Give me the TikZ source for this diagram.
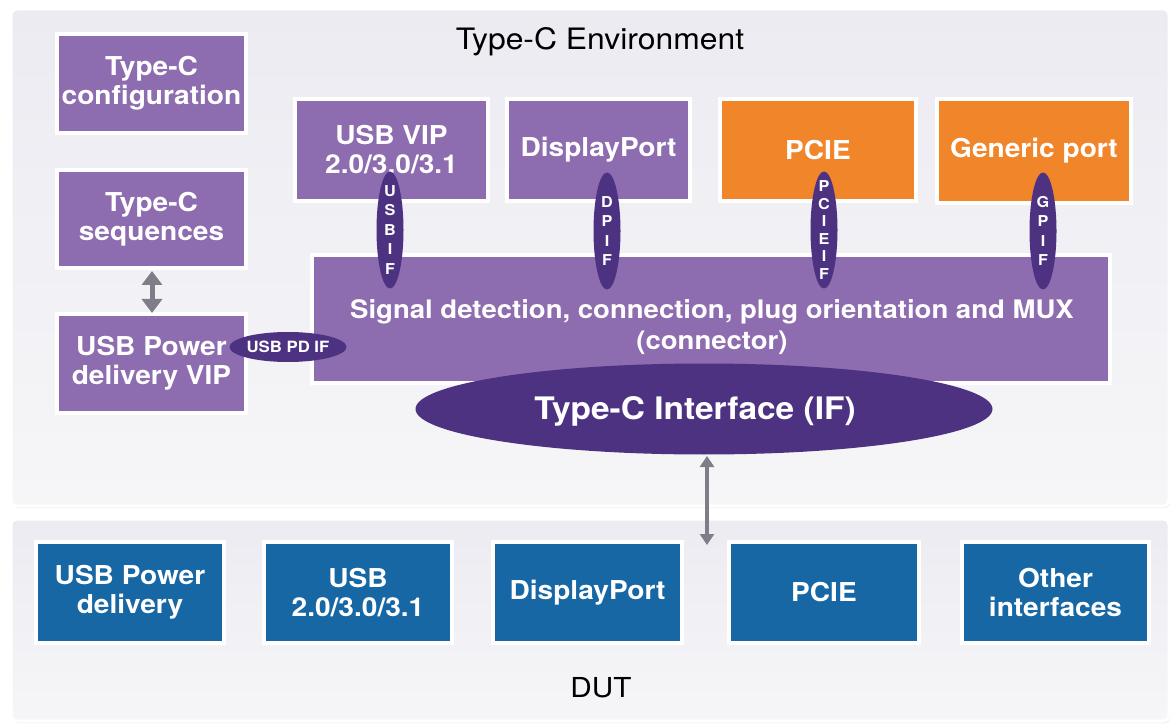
\documentclass[tikz,border=0pt]{standalone}
\usepackage{fontspec}
\setmainfont{TeX Gyre Heros}[FakeStretch=1.08]
\usetikzlibrary{shapes.geometric,arrows.meta,shadows}
\definecolor{envtop}{HTML}{ECEBF2}
\definecolor{envbot}{HTML}{F6F6F8}
\definecolor{vio}{HTML}{8E6CB0}
\definecolor{dvio}{HTML}{4D3282}
\definecolor{org}{HTML}{F0852A}
\definecolor{blu}{HTML}{1767A5}
\definecolor{arr}{HTML}{7E7D88}
\begin{document}
\begin{tikzpicture}[x=1pt,y=-1pt,
  panel/.style={rectangle, rounded corners=6pt, draw=white, line width=3pt, top color=envtop, bottom color=envbot, inner sep=0pt,
     drop shadow={opacity=0.18, shadow xshift=1pt, shadow yshift=-2pt}},
  box/.style={rectangle, draw=white, line width=4pt, fill=vio, text=white, align=center, inner sep=0pt,
     font=\bfseries\fontsize{26}{29}\selectfont,
     drop shadow={opacity=0.25, shadow xshift=1.5pt, shadow yshift=-2pt}},
  obox/.style={box, fill=org},
  bbox/.style={box, fill=blu},
  vell/.style={ellipse, fill=dvio, inner sep=0pt, minimum width=27pt, minimum height=117pt},
  vtxt/.style={text=white, align=center, inner sep=0pt, font=\bfseries\fontsize{15}{19.5}\selectfont},
  vtxtb/.style={vtxt, font=\bfseries\fontsize{15}{17.6}\selectfont},
  plain/.style={inner sep=0pt, text=black},
  twoway/.style={draw=arr, {Triangle[length=11pt,width=14pt]}-{Triangle[length=11pt,width=14pt]}},
]
\fill[white] (0,0) rectangle (1176,727);
\useasboundingbox (0,0) rectangle (1176,727);

% panels
\node[panel, minimum width=1158pt, minimum height=497pt] (env) at (590,257.5) {};
\node[panel, minimum width=1158pt, minimum height=202pt] (dutp) at (590,620) {};
\node[plain, font=\fontsize{29.5}{33}\selectfont] (envt) at (600,42) {Type-C Environment};
\node[plain, font=\fontsize{27.5}{30}\selectfont] (dutt) at (601,688) {DUT};

% left column
\node[box, minimum width=189pt, minimum height=99pt] (cfg) at (151.5,83.5) {Type-C\\configuration};
\node[box, minimum width=189pt, minimum height=98pt] (seq) at (151.5,219) {Type-C\\sequences};
\node[box, minimum width=189pt, minimum height=99pt] (pd) at (151.5,363.5) {USB Power\\delivery VIP};

% top row
\node[box, minimum width=193pt, minimum height=102pt] (usb) at (391.5,150) {USB VIP\\2.0/3.0/3.1};
\node[box, minimum width=183pt, minimum height=102pt] (dp) at (598.5,150) {DisplayPort};
\node[obox, minimum width=196pt, minimum height=102pt] (pcie) at (818,150) {PCIE};
\node[obox, minimum width=194pt, minimum height=104pt] (gen) at (1034,151) {Generic port};

% signal box
\node[box, minimum width=798pt, minimum height=128pt] (sig) at (711,319) {};
\node[plain, text=white, align=center, font=\bfseries\fontsize{25.5}{31}\selectfont] (sigt) at (712,327)
  {Signal detection, connection, plug orientation and MUX\\(connector)};

% vertical interface ellipses
\node[vell] (usbif) at (390,230) {};
\node[vtxt] (usbift) at (usbif) {U\\S\\B\\I\\F};
\node[vell] (dpif) at (607,231) {};
\node[vtxt] (dpift) at (dpif) {D\\P\\I\\F};
\node[vell] (pcieif) at (824,230) {};
\node[vtxtb] (pcieift) at (pcieif) {P\\C\\I\\E\\I\\F};
\node[vell] (gpif) at (1043,231) {};
\node[vtxt] (gpift) at (gpif) {G\\P\\I\\F};

% USB PD IF
\node[ellipse, fill=dvio, inner sep=0pt, minimum width=117pt, minimum height=30pt] (pdif) at (288,347) {};
\node[vtxt, font=\bfseries\fontsize{15.5}{17}\selectfont] (pdift) at (pdif) {USB PD IF};

% Type-C IF
\node[ellipse, fill=dvio, inner sep=0pt, minimum width=577pt, minimum height=91pt] (tcif) at (704,409) {};
\node[plain, text=white, font=\bfseries\fontsize{31}{34}\selectfont] (tcift) at (695,411) {Type-C Interface (IF)};

% DUT boxes
\node[bbox, minimum width=188pt, minimum height=101pt] (dpd) at (130,592.5) {USB Power\\delivery};
\node[bbox, minimum width=188pt, minimum height=101pt] (dusb) at (358,592.5) {USB\\2.0/3.0/3.1};
\node[bbox, minimum width=189pt, minimum height=101pt] (ddp) at (587.5,592.5) {DisplayPort};
\node[bbox, minimum width=190pt, minimum height=101pt] (dpcie) at (824,592.5) {PCIE};
\node[bbox, minimum width=187pt, minimum height=101pt] (doth) at (1055.5,592.5) {Other\\interfaces};

% arrows
\coordinate (a1) at (152,271);
\coordinate (a2) at (152,313);
\draw[twoway, line width=5pt, {Triangle[length=14pt,width=20pt]}-{Triangle[length=14pt,width=20pt]}] (a1) -- (a2);
\coordinate (b1) at (707,456);
\coordinate (b2) at (707,545);
\draw[twoway, line width=3.5pt] (b1) -- (b2);
\end{tikzpicture}
\end{document}
